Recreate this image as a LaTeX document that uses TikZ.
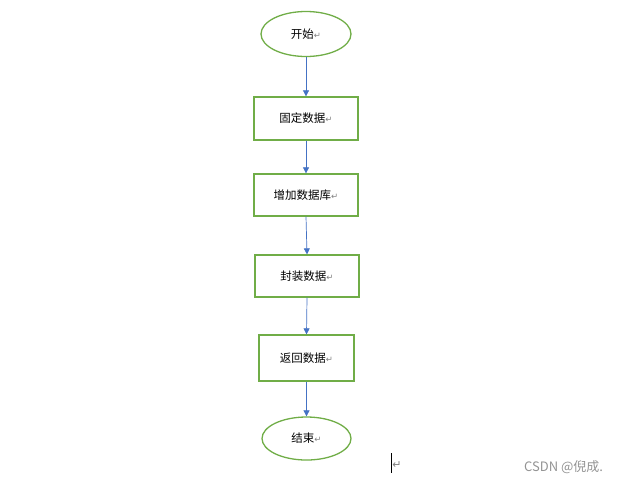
\documentclass[tikz,border=0pt]{standalone}
\usepackage{fontspec}
\newfontfamily\cjk{Noto Sans CJK SC}
\newfontfamily\dv{DejaVu Sans}
\usetikzlibrary{shapes.geometric,arrows.meta}
\definecolor{fgreen}{HTML}{70AD47}
\definecolor{fblue}{HTML}{4472C4}
\newcommand{\ret}{{\dv\fontsize{8.5}{9}\selectfont\textcolor{gray}{↵}}}
\tikzset{
  term/.style={ellipse, draw=fgreen, line width=1.3pt, minimum width=90pt, minimum height=45pt, inner sep=0pt, font=\cjk\fontsize{11.5}{13}\selectfont},
  proc/.style={rectangle, draw=fgreen, line width=1.3pt, inner sep=0pt, font=\cjk\fontsize{11.5}{13}\selectfont},
  flow/.style={draw=fblue, line width=0.7pt, -{Triangle[length=6pt,width=6pt]}}
}
\begin{document}
\begin{tikzpicture}[x=1pt,y=-1pt]
\useasboundingbox (0,0) rectangle (617,483);
\node[term] (start) at (306,34) {开始\ret};
\node[proc, minimum width=104pt, minimum height=43pt] (b1) at (306,118.5) {固定数据\ret};
\node[proc, minimum width=104pt, minimum height=42pt] (b2) at (306,195) {增加数据库\ret};
\node[proc, minimum width=104pt, minimum height=42pt] (b3) at (307,276) {封装数据\ret};
\node[proc, minimum width=95pt, minimum height=46pt] (b4) at (306.5,358) {返回数据\ret};
\node[term, minimum width=89pt, minimum height=43pt] (end) at (306.5,438.5) {结束\ret};
\draw[flow] (start) -- (b1);
\draw[flow] (b1) -- (b2);
\draw[flow] (b2.south) -- (b3.north);
\draw[flow] (b3.south) -- (b4.north);
\draw[flow] (b4) -- (end);
\coordinate (c1) at (391,453);
\coordinate (c2) at (391,473);
\draw[line width=0.8pt] (c1) -- (c2);
\node[inner sep=0pt, font=\dv\fontsize{11}{12}\selectfont, text=gray] (cr) at (397,465) {↵};
\node[inner sep=0pt, anchor=west, text=gray!85, font=\cjk\fontsize{13}{14}\selectfont] (wm) at (524,467) {CSDN @倪成.};
\end{tikzpicture}
\end{document}
